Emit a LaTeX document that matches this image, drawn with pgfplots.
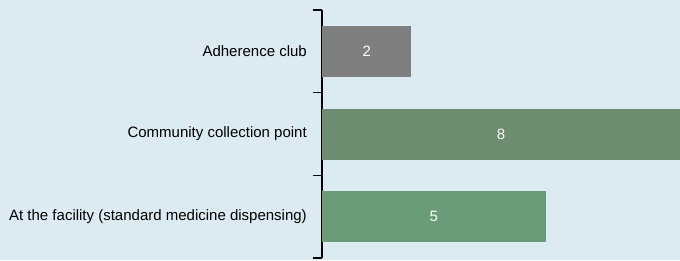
\documentclass[border=0pt]{standalone}
\usepackage{fontspec}
\setmainfont{Liberation Sans}
\usepackage{pgfplots}
\pgfplotsset{compat=1.18}
\definecolor{bg}{RGB}{220,235,241}
\definecolor{cgray}{RGB}{127,127,127}
\definecolor{ccomm}{RGB}{110,140,112}
\definecolor{cfac}{RGB}{106,157,119}
\begin{document}
\begin{tikzpicture}
\fill[bg] (-322pt,-2pt) rectangle (358pt,258pt);
\begin{axis}[
  at={(0,0)}, anchor=south west,
  scale only axis, width=358pt, height=248pt,
  xbar, bar width=51pt, bar shift=0pt,
  xmin=0, xmax=8, ymin=-0.5, ymax=2.5,
  axis x line=none, axis y line*=left,
  axis line style={line width=1.3pt, black},
  ytick={0,1,2},
  yticklabels={At the facility (standard medicine dispensing), Community collection point, Adherence club},
  major tick length=0pt,
  extra y ticks={-0.5,0.5,1.5,2.5}, extra y tick labels={},
  extra y tick style={major tick length=9pt, tick align=outside, tick style={line width=1.3pt, black}},
  yticklabel style={font=\fontsize{15}{18}\selectfont, inner sep=0pt, xshift=-15pt, text=black},
  nodes near coords,
  /pgf/number format/assume math mode=true,
  visualization depends on=rawx \as \rawx,
  nodes near coords style={text=white, font=\fontsize{15}{18}\selectfont, anchor=center, shift={(axis direction cs:-\rawx/2,0)}},
]
\addplot[fill=cfac, draw=none] coordinates {(5,0)};
\addplot[fill=ccomm, draw=none] coordinates {(8,1)};
\addplot[fill=cgray, draw=none] coordinates {(2,2)};
\end{axis}
\end{tikzpicture}
\end{document}
